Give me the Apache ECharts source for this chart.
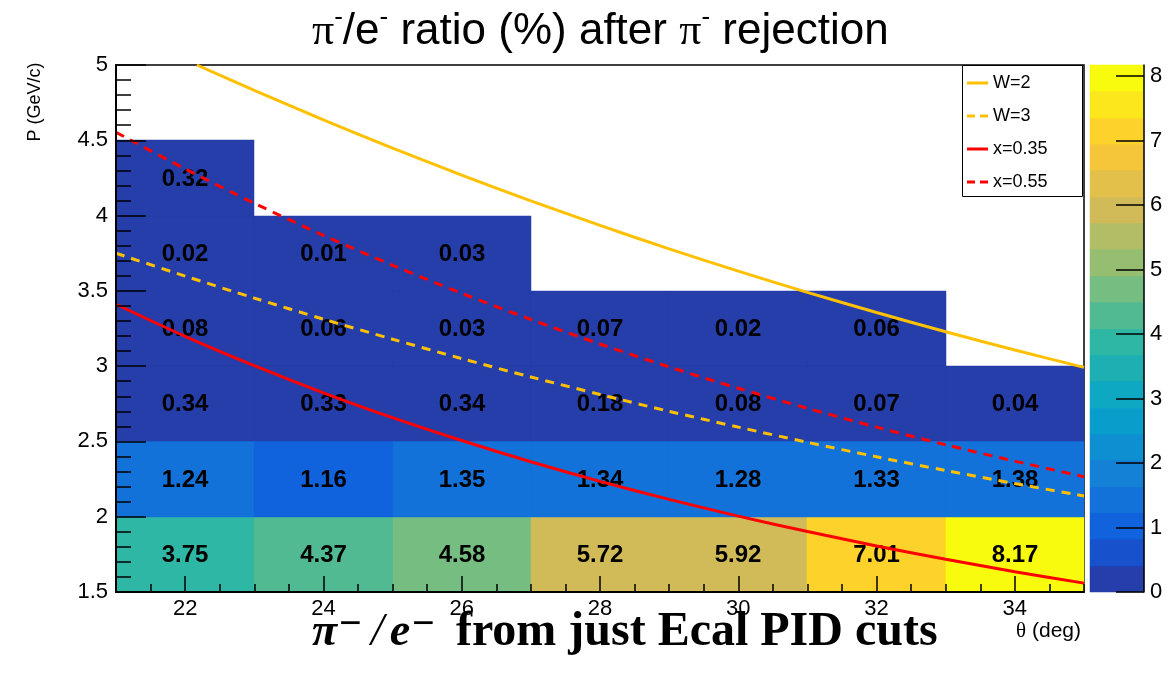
<!DOCTYPE html>
<html>
<head>
<meta charset="utf-8">
<title>π-/e- ratio after π- rejection</title>
<script src="https://cdn.jsdelivr.net/npm/echarts@6/dist/echarts.min.js"></script>
<style>
  html, body { margin: 0; padding: 0; background: #fff; }
  #chart { width: 1173px; height: 680px; }
</style>
</head>
<body>
<div id="chart"></div>
<script>
// ---- Histogram binning (θ in deg, P in GeV/c) ----
const thetaEdges = [21, 23, 25, 27, 29, 31, 33, 35];
const pEdges = [1.5, 2.0, 2.5, 3.0, 3.5, 4.0, 4.5];

// π-/e- ratio (%) per θ bin, one array per momentum bin (null = empty bin)
const ratioP150 = [3.75, 4.37, 4.58, 5.72, 5.92, 7.01, 8.17];
const ratioP200 = [1.24, 1.16, 1.35, 1.34, 1.28, 1.33, 1.38];
const ratioP250 = [0.34, 0.33, 0.34, 0.18, 0.08, 0.07, 0.04];
const ratioP300 = [0.08, 0.06, 0.03, 0.07, 0.02, 0.06, null];
const ratioP350 = [0.02, 0.01, 0.03, null, null, null, null];
const ratioP400 = [0.32, null, null, null, null, null, null];
const ratioRows = [ratioP150, ratioP200, ratioP250, ratioP300, ratioP350, ratioP400];

// ---- Colour scale ----
const zMin = 0;
const zMax = 8.17;
const nLevels = 20;
const zTicks = [0, 1, 2, 3, 4, 5, 6, 7, 8];

// ---- Axis ticks ----
const thetaTicks = [22, 24, 26, 28, 30, 32, 34];

// ---- Kinematic curves, P (GeV/c) vs θ (deg) ----
const curveTheta = [21, 22, 23, 24, 25, 26, 27, 28, 29, 30, 31, 32, 33, 34, 35];
const w3P   = [3.750, 3.598, 3.452, 3.312, 3.179, 3.050, 2.928, 2.812, 2.700, 2.595, 2.494, 2.398, 2.307, 2.220, 2.138];
const x035P = [3.411, 3.198, 3.003, 2.823, 2.658, 2.506, 2.365, 2.235, 2.115, 2.004, 1.902, 1.806, 1.718, 1.635, 1.559];
const x055P = [4.553, 4.310, 4.082, 3.869, 3.670, 3.484, 3.310, 3.147, 2.995, 2.853, 2.720, 2.595, 2.478, 2.369, 2.266];
const w2Theta = [22.17, 23, 24, 25, 26, 27, 28, 29, 30, 31, 32, 33, 34, 35];
const w2P     = [5.000, 4.831, 4.636, 4.448, 4.269, 4.098, 3.935, 3.779, 3.631, 3.490, 3.356, 3.228, 3.107, 2.992];

// Bird palette sampled at the 20 contour levels
const palette = ['#263eaa', '#1752cc', '#1063dc', '#1272d9', '#1481d6', '#0e8fd1', '#099dcc',
  '#0ea8c2', '#1eafb3', '#2eb7a4', '#52ba92', '#75bd80', '#96be71', '#b3bd65', '#d1bb59',
  '#e3c04a', '#f5c63a', '#fdd32b', '#fbe71c', '#f9fb0e'];

const SANS = '"Liberation Sans", Arial, Helvetica, sans-serif';
const SERIF = '"Liberation Serif", "Times New Roman", serif';

// legend key shapes: a solid bar and a two-dash bar
const ICON_SOLID = 'path://M0,0H22V3H0Z';
const ICON_DASHED = 'path://M0,0H8V3H0Z M13,0H21V3H13Z';

function levelOf(v) {
  const k = Math.floor((v - zMin) / (zMax - zMin) * nLevels);
  return Math.max(0, Math.min(nLevels - 1, k));
}

// cells: [θlow, θhigh, Plow, Phigh, ratio]
const cells = [];
ratioRows.forEach((row, j) => {
  row.forEach((v, i) => {
    if (v !== null && v > 0) {
      cells.push([thetaEdges[i], thetaEdges[i + 1], pEdges[j], pEdges[j + 1], v]);
    }
  });
});

// colour bar bands: [zLow, zHigh, level]
const bands = [];
for (let k = 0; k < nLevels; k++) {
  bands.push([zMin + k * (zMax - zMin) / nLevels, zMin + (k + 1) * (zMax - zMin) / nLevels, k]);
}

const pair = (xs, ys) => xs.map((x, i) => [x, ys[i]]);

const chart = echarts.init(document.getElementById('chart'), null, { renderer: 'canvas' });

const plotRect = { left: 116, right: 89, top: 65, bottom: 88 };

const gold = '#ffc000';
const red = '#ff0000';

function curveSeries(name, data, color, dashed) {
  return {
    name: name,
    type: 'line',
    xAxisIndex: 0,
    yAxisIndex: 0,
    data: data,
    smooth: 0.3,
    showSymbol: false,
    symbol: 'none',
    z: 5,
    lineStyle: { color: color, width: 3, type: dashed ? [9, 7] : 'solid' },
    itemStyle: { color: color },
    emphasis: { disabled: true },
    silent: true
  };
}

const option = {
  animation: false,
  backgroundColor: '#fff',
  title: {
    left: 307,
    top: 0,
    text: '{pi|π}{sup|-}/e{sup|-} ratio (%) after {pi|π}{sup|-} rejection',
    textStyle: {
      fontFamily: SANS,
      fontSize: 44,
      fontWeight: 'normal',
      color: '#000',
      lineHeight: 54,
      rich: {
        pi: { fontFamily: SERIF, fontSize: 44, color: '#000', lineHeight: 54 },
        sup: { fontFamily: SANS, fontSize: 26, color: '#000', verticalAlign: 'top', lineHeight: 34 }
      }
    }
  },
  legend: {
    orient: 'vertical',
    left: 967,
    top: 73,
    padding: 0,
    z: 20,
    itemWidth: 21,
    itemHeight: 3,
    itemGap: 13,
    symbolKeepAspect: false,
    textStyle: { fontFamily: SANS, fontSize: 18, lineHeight: 20, color: '#000' },
    data: [
      { name: 'W=2', icon: ICON_SOLID },
      { name: 'W=3', icon: ICON_DASHED },
      { name: 'x=0.35', icon: ICON_SOLID },
      { name: 'x=0.55', icon: ICON_DASHED }
    ]
  },
  grid: [
    Object.assign({ show: true, borderColor: '#000', borderWidth: 1.5, backgroundColor: 'transparent' }, plotRect),
    { left: 1090, width: 54, top: 65, bottom: 88 },
    Object.assign({}, plotRect)
  ],
  xAxis: [
    {
      gridIndex: 0, type: 'value', min: 21, max: 35, z: 10,
      axisLine: { show: true, onZero: false, lineStyle: { color: '#000', width: 2 } },
      axisTick: { show: true, inside: true, length: 16, customValues: thetaTicks, lineStyle: { color: '#000', width: 1.5 } },
      axisLabel: { customValues: thetaTicks, fontFamily: SANS, fontSize: 22, color: '#000', margin: 6 },
      splitLine: { show: false }
    },
    {
      gridIndex: 1, type: 'value', min: 0, max: 1, show: false
    },
    {
      gridIndex: 2, type: 'value', min: 21, max: 35, interval: 0.5, z: 10,
      axisLine: { show: false, onZero: false },
      axisTick: { show: true, inside: true, length: 8, lineStyle: { color: '#000', width: 1.5 } },
      axisLabel: { show: false },
      splitLine: { show: false }
    }
  ],
  yAxis: [
    {
      gridIndex: 0, type: 'value', min: 1.5, max: 5, interval: 0.5, z: 10,
      axisLine: { show: true, onZero: false, lineStyle: { color: '#000', width: 2 } },
      axisTick: { show: true, inside: true, length: 30, lineStyle: { color: '#000', width: 1.5 } },
      minorTick: { show: true, splitNumber: 5, length: 15, lineStyle: { color: '#000', width: 1.5 } },
      axisLabel: { fontFamily: SANS, fontSize: 22, color: '#000', margin: 8, formatter: v => String(+v.toFixed(1)) },
      splitLine: { show: false }
    },
    {
      gridIndex: 1, type: 'value', min: zMin, max: zMax, position: 'right', z: 10,
      axisLine: { show: true, onZero: false, lineStyle: { color: '#000', width: 1.5 } },
      axisTick: { show: true, inside: true, length: 28, customValues: zTicks, lineStyle: { color: '#000', width: 1.5 } },
      axisLabel: { customValues: zTicks, fontFamily: SANS, fontSize: 22, color: '#000', margin: 6 },
      splitLine: { show: false }
    },
    {
      gridIndex: 2, type: 'value', min: 1.5, max: 5, show: false
    }
  ],
  graphic: [
    {
      type: 'rect', z: 1,
      shape: { x: 962.5, y: 65.5, width: 120, height: 131 },
      style: { fill: '#fff', stroke: '#000', lineWidth: 1 }
    },
    {
      type: 'text', z: 100,
      x: 35, y: 102, rotation: Math.PI / 2,
      style: { text: 'P (GeV/c)', font: '18px ' + SANS, fill: '#000', align: 'center', verticalAlign: 'middle' }
    },
    {
      type: 'text', z: 100,
      x: 1081, y: 631,
      style: {
        text: '{th|θ} (deg)', font: '21px ' + SANS, fill: '#000', align: 'right', verticalAlign: 'middle',
        rich: { th: { fontFamily: SERIF, fontSize: 21, fill: '#000' } }
      }
    },
    {
      type: 'text', z: 100,
      x: 312, y: 633,
      style: {
        text: '{m|π}{sup|−}{sl|/}{m|e}{sup|−}{t|from just Ecal PID cuts}',
        fill: '#000', verticalAlign: 'middle', align: 'left',
        rich: {
          m: { fontFamily: SERIF, fontSize: 46, fontStyle: 'italic', fontWeight: 'bold', fill: '#000', lineHeight: 54 },
          sup: { fontFamily: SERIF, fontSize: 40, fontWeight: 'bold', fill: '#000', verticalAlign: 'top', lineHeight: 32, padding: [0, 5, 0, 2] },
          sl: { fontFamily: SERIF, fontSize: 46, fontStyle: 'italic', fill: '#000', lineHeight: 54, padding: [0, 6, 0, 4] },
          t: { fontFamily: SERIF, fontSize: 48, fontWeight: 'bold', fill: '#000', lineHeight: 54, padding: [0, 0, 0, 16] }
        }
      }
    }
  ],
  series: [
    {
      name: 'ratio',
      type: 'custom',
      xAxisIndex: 0,
      yAxisIndex: 0,
      data: cells,
      encode: { x: [0, 1], y: [2, 3] },
      z: 2,
      silent: true,
      renderItem: function (params, api) {
        const a = api.coord([api.value(0), api.value(3)]);
        const b = api.coord([api.value(1), api.value(2)]);
        const v = api.value(4);
        const x0 = Math.round(a[0]), y0 = Math.round(a[1]);
        const x1 = Math.round(b[0]), y1 = Math.round(b[1]);
        return {
          type: 'group',
          children: [
            {
              type: 'rect',
              shape: { x: x0, y: y0, width: x1 - x0, height: y1 - y0 },
              style: { fill: palette[levelOf(v)], stroke: palette[levelOf(v)], lineWidth: 0.5 }
            },
            {
              type: 'text',
              x: (x0 + x1) / 2, y: (y0 + y1) / 2 + 1,
              style: {
                text: v.toFixed(2), font: 'bold 24px ' + SANS, fill: '#000',
                align: 'center', verticalAlign: 'middle'
              }
            }
          ]
        };
      }
    },
    {
      name: 'palette',
      type: 'custom',
      xAxisIndex: 1,
      yAxisIndex: 1,
      data: bands,
      encode: { y: [0, 1] },
      z: 2,
      silent: true,
      renderItem: function (params, api) {
        const a = api.coord([0, api.value(1)]);
        const b = api.coord([1, api.value(0)]);
        const x0 = Math.round(a[0]), y0 = Math.round(a[1]);
        const x1 = Math.round(b[0]), y1 = Math.round(b[1]);
        const c = palette[api.value(2)];
        return {
          type: 'rect',
          shape: { x: x0, y: y0, width: x1 - x0, height: y1 - y0 },
          style: { fill: c, stroke: c, lineWidth: 0.5 }
        };
      }
    },
    curveSeries('W=2', pair(w2Theta, w2P), gold, false),
    curveSeries('W=3', pair(curveTheta, w3P), gold, true),
    curveSeries('x=0.35', pair(curveTheta, x035P), red, false),
    curveSeries('x=0.55', pair(curveTheta, x055P), red, true)
  ]
};

chart.setOption(option);
</script>
</body>
</html>
